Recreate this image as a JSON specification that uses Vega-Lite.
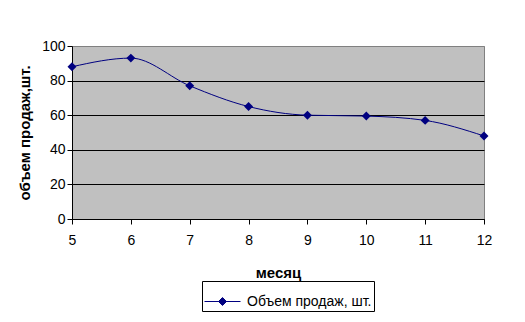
{
  "$schema": "https://vega.github.io/schema/vega-lite/v6.json",
  "autosize": "none",
  "width": 412,
  "height": 173,
  "padding": {"left": 72, "top": 46, "right": 41, "bottom": 103},
  "background": "white",
  "config": {
    "font": "Liberation Sans",
    "view": {"fill": "#C0C0C0", "stroke": "#808080", "strokeWidth": 1},
    "axis": {
      "labelFont": "Liberation Sans",
      "labelFontSize": 14,
      "labelColor": "black",
      "titleFont": "Liberation Sans",
      "titleFontSize": 15,
      "titleFontWeight": "bold",
      "titleColor": "black",
      "domainColor": "black",
      "tickColor": "black",
      "tickSize": 5,
      "gridOpacity": 1
    }
  },
  "data": {
    "values": [
      {"month": 5, "sales": 88, "series": "Объем продаж, шт."},
      {"month": 6, "sales": 93, "series": "Объем продаж, шт."},
      {"month": 7, "sales": 77, "series": "Объем продаж, шт."},
      {"month": 8, "sales": 65, "series": "Объем продаж, шт."},
      {"month": 9, "sales": 60, "series": "Объем продаж, шт."},
      {"month": 10, "sales": 59.5, "series": "Объем продаж, шт."},
      {"month": 11, "sales": 57, "series": "Объем продаж, шт."},
      {"month": 12, "sales": 48, "series": "Объем продаж, шт."}
    ]
  },
  "encoding": {
    "x": {
      "field": "month", "type": "quantitative",
      "scale": {"domain": [5, 12], "nice": false, "zero": false},
      "axis": {"title": "месяц", "values": [5,6,7,8,9,10,11,12], "grid": false, "labelPadding": 9, "titlePadding": 18, "labelFlush": false}
    },
    "y": {
      "field": "sales", "type": "quantitative",
      "scale": {"domain": [0, 100], "nice": false},
      "axis": {
        "title": "объем продаж,шт.", "values": [0,20,40,60,80,100], "labelPadding": 2, "titlePadding": 9, "grid": true, "labelFlush": false,
        "gridColor": {"condition": {"test": "datum.value === 100", "value": "#808080"}, "value": "black"}
      }
    },
    "color": {
      "field": "series", "type": "nominal",
      "scale": {"range": ["#000080"]},
      "legend": {
        "title": null,
        "orient": "none",
        "legendX": 130,
        "legendY": 235,
        "strokeColor": "black",
        "fillColor": "white",
        "padding": 2,
        "labelFont": "Liberation Sans",
        "labelFontSize": 14,
        "labelColor": "black",
        "symbolType": "M-1,0H1M0,-0.22L0.22,0L0,0.22L-0.22,0Z",
        "symbolSize": 1296,
        "symbolStrokeWidth": 1,
        "symbolFillColor": "#000080",
        "symbolStrokeColor": "#000080",
        "labelOffset": 6
      }
    }
  },
  "layer": [
    {"mark": {"type": "line", "interpolate": "monotone", "strokeWidth": 1}},
    {"mark": {"type": "point", "shape": "diamond", "filled": true, "size": 80, "opacity": 1}}
  ]
}
